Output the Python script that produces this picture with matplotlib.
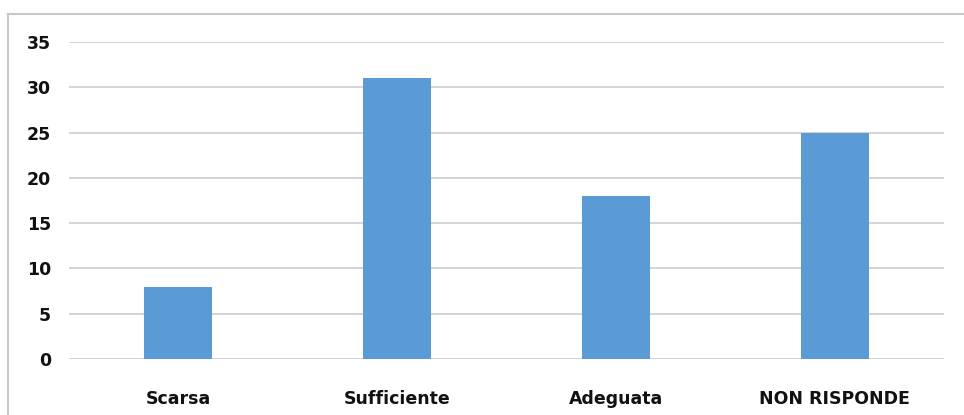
import matplotlib
matplotlib.use("Agg")
import matplotlib.pyplot as plt
from matplotlib.lines import Line2D

categories = ["Scarsa", "Sufficiente", "Adeguata", "NON RISPONDE"]
values = [8, 31, 18, 25]
yticks = [0, 5, 10, 15, 20, 25, 30, 35]

fig = plt.figure(figsize=(9.64, 4.15), dpi=100)
ax = fig.add_axes([69/964, 1-359/415, (944-69)/964, (359-42)/415])

x = range(len(categories))
ax.bar(x, values, width=0.31, color="#5B9BD5", zorder=3)
ax.set_xlim(-0.5, len(categories)-0.5)
ax.set_ylim(0, 35)
ax.set_yticks(yticks)
ax.set_yticklabels([str(t) for t in yticks], fontsize=12.5, fontweight="bold", color="#111111")
ax.set_xticks(list(x))
ax.set_xticklabels(categories, fontsize=12.5, fontweight="bold", color="#111111")
ax.tick_params(axis="both", length=0)
ax.tick_params(axis="y", pad=13)
ax.tick_params(axis="x", pad=22)
ax.grid(axis="y", color="#d4d4d4", linewidth=1.4, zorder=0)
for s in ax.spines.values():
    s.set_visible(False)

fig.add_artist(Line2D([8/964, 1], [1-14/415, 1-14/415], color="#c8c8c8", linewidth=1.5, transform=fig.transFigure))
fig.add_artist(Line2D([8/964, 8/964], [0, 1-14/415], color="#c8c8c8", linewidth=1.5, transform=fig.transFigure))

fig.savefig("out.png", dpi=100)
